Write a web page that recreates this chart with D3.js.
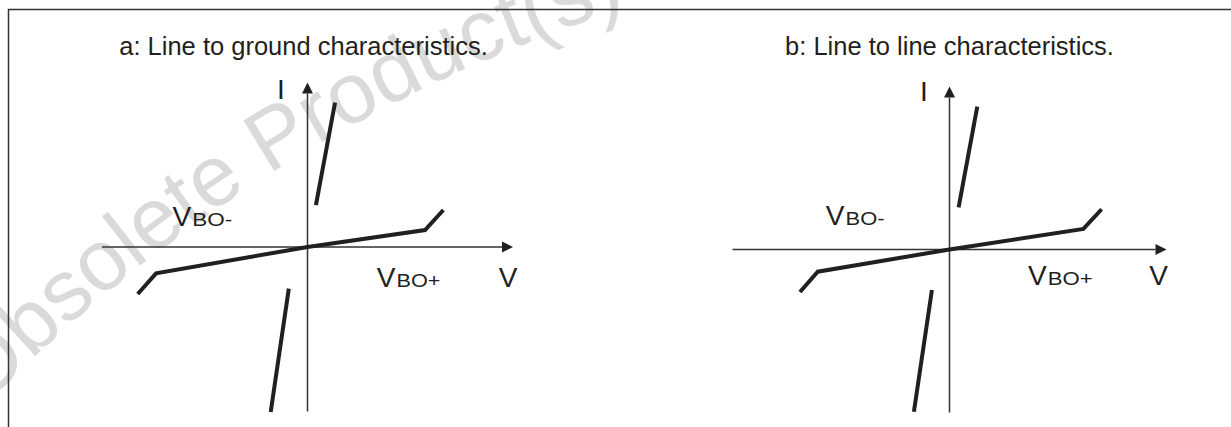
<!DOCTYPE html>
<html>
<head>
<meta charset="utf-8">
<script src="https://cdn.jsdelivr.net/npm/d3@7"></script>
<style>
  body { margin: 0; background: #fff; }
  svg { display: block; }
</style>
</head>
<body>
<div id="chart"></div>
<script>
// values are in axis units, each axis runs -10..10
const titles = ["a: Line to ground characteristics.", "b: Line to line characteristics."];

const groundBreakdown = [[-8.26, -2.86], [-7.37, -1.6], [0, 0], [5.72, 1.03], [6.61, 2.25]];
const groundOnUpper = [[0.41, 2.55], [1.34, 8.77]];
const groundOnLower = [[-1.79, -10.03], [-0.91, -2.53]];

const lineBreakdown = [[-6.89, -2.61], [-6.07, -1.36], [0, 0], [6.17, 1.26], [7.01, 2.47]];
const lineOnUpper = [[0.42, 2.59], [1.28, 8.76]];
const lineOnLower = [[-1.64, -9.95], [-0.81, -2.48]];

// label anchors [v, i] per panel
const groundLabels = { I: [-1.29, 8.98], vboMinus: [-6.56, 1.29], vboPlus: [3.38, -2.41], V: [9.76, -2.41] };
const lineLabels = { I: [-1.18, 9.13], vboMinus: [-5.69, 1.5], vboPlus: [3.63, -2.18], V: [9.63, -2.18] };

const width = 1231,
  height = 427,
  ink = "#231f20",
  font = "'Liberation Sans', Arial, Helvetica, sans-serif";

const panels = [
  { title: titles[0], curves: [groundBreakdown, groundOnUpper, groundOnLower], labels: groundLabels,
    xr: [102, 513], yr: [411.5, 82.5], titleX: 303.5, minusW: 40, plusW: 44 },
  { title: titles[1], curves: [lineBreakdown, lineOnUpper, lineOnLower], labels: lineLabels,
    xr: [732.5, 1166.5], yr: [412.5, 86.5], titleX: 949.5, minusW: 39, plusW: 45 },
];

const svg = d3.select("#chart")
  .append("svg")
  .attr("width", width)
  .attr("height", height)
  .style("font-family", font);

// watermark, set along a wide arc
const wmR = 1562, wmC = [1105, 1494];
const arcPt = (deg) => [wmC[0] + wmR * Math.cos(deg * Math.PI / 180), wmC[1] + wmR * Math.sin(deg * Math.PI / 180)];
const a0 = arcPt(-140), a1 = arcPt(-98);
svg.append("defs").append("path")
  .attr("id", "wm-arc")
  .attr("d", `M${a0[0]},${a0[1]} A${wmR},${wmR} 0 0 1 ${a1[0]},${a1[1]}`);
svg.append("text")
  .style("font-size", "86px")
  .style("fill", "#dadada")
  .append("textPath")
  .attr("href", "#wm-arc")
  .attr("startOffset", 112)
  .text("Obsolete Product(s)");

// frame
svg.append("path")
  .attr("d", `M8.5,${height} V9.5 H${width}`)
  .attr("fill", "none")
  .attr("stroke", "#333")
  .attr("stroke-width", 1.5);

panels.forEach((p) => {
  const x = d3.scaleLinear().domain([-10, 10]).range(p.xr);
  const y = d3.scaleLinear().domain([-10, 10]).range(p.yr);
  const g = svg.append("g");

  g.append("text")
    .attr("x", p.titleX)
    .attr("y", 55)
    .attr("text-anchor", "middle")
    .style("font-size", "25.5px")
    .style("fill", ink)
    .text(p.title);

  // axes
  const ah = 11, aw = 5.5;
  g.append("line")
    .attr("x1", x(-10)).attr("x2", x(10) - ah)
    .attr("y1", y(0)).attr("y2", y(0))
    .attr("stroke", "#333").attr("stroke-width", 1.5);
  g.append("line")
    .attr("x1", x(0)).attr("x2", x(0))
    .attr("y1", y(-10)).attr("y2", y(10) + ah)
    .attr("stroke", "#333").attr("stroke-width", 1.5);
  g.append("path")
    .attr("d", `M${x(10)},${y(0)} L${x(10) - ah},${y(0) - aw} L${x(10) - ah},${y(0) + aw} Z`)
    .attr("fill", ink);
  g.append("path")
    .attr("d", `M${x(0)},${y(10)} L${x(0) - aw},${y(10) + ah} L${x(0) + aw},${y(10) + ah} Z`)
    .attr("fill", ink);

  const line = d3.line().x((d) => x(d[0])).y((d) => y(d[1]));
  g.selectAll(".curve")
    .data(p.curves)
    .join("path")
    .attr("class", "curve")
    .attr("d", line)
    .attr("fill", "none")
    .attr("stroke", ink)
    .attr("stroke-width", 4)
    .attr("stroke-linejoin", "miter");

  const L = p.labels;
  g.append("text")
    .attr("x", x(L.I[0])).attr("y", y(L.I[1]))
    .attr("text-anchor", "middle")
    .style("font-size", "28px").style("fill", ink)
    .text("I");
  g.append("text")
    .attr("x", x(L.V[0])).attr("y", y(L.V[1]))
    .attr("text-anchor", "middle")
    .style("font-size", "28px").style("fill", ink)
    .text("V");

  [[L.vboMinus, "BO-", p.minusW], [L.vboPlus, "BO+", p.plusW]].forEach(([pos, sub, w]) => {
    g.append("text")
      .attr("x", x(pos[0]) - 0.3).attr("y", y(pos[1]))
      .style("font-size", "28px").style("fill", ink)
      .text("V");
    g.append("text")
      .attr("x", x(pos[0]) + 19.5).attr("y", y(pos[1]))
      .attr("textLength", w)
      .attr("lengthAdjust", "spacingAndGlyphs")
      .style("font-size", "18.5px").style("fill", ink)
      .text(sub);
  });
});
</script>
</body>
</html>
